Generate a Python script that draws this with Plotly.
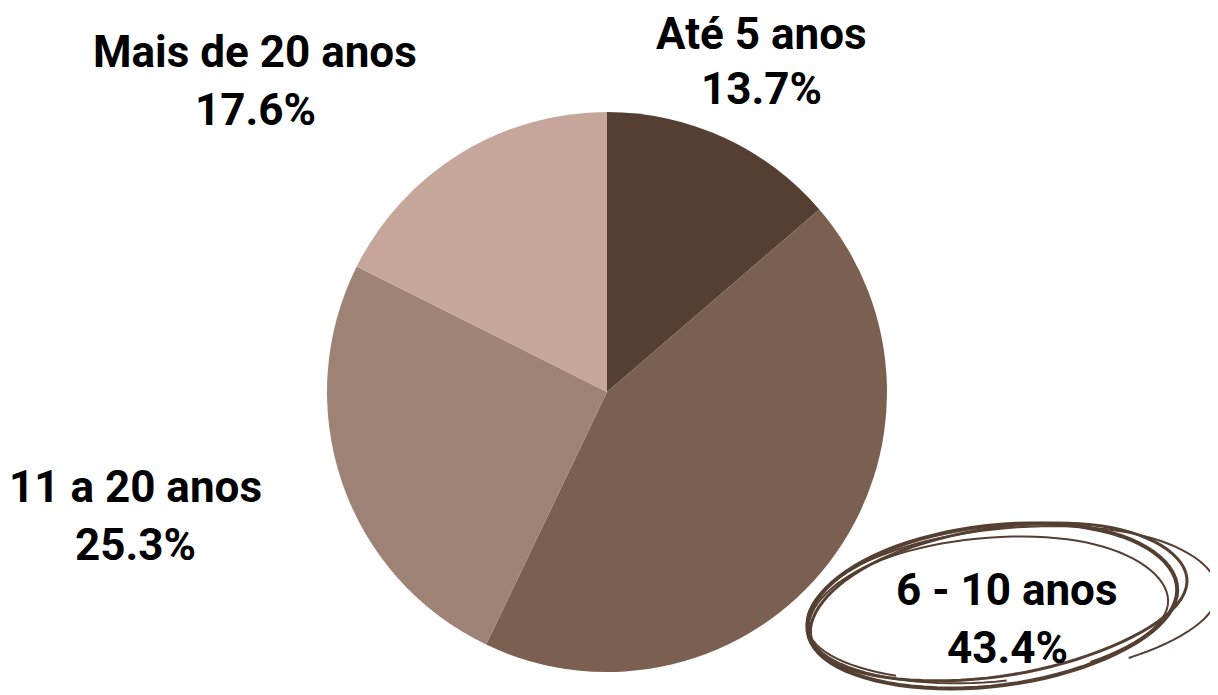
import plotly.graph_objects as go
import numpy as np

categories = ["Até 5 anos", "6 - 10 anos", "11 a 20 anos", "Mais de 20 anos"]
values = [13.7, 43.4, 25.3, 17.6]
colors = ["#553F32", "#7B5F51", "#9E8276", "#C6A59A"]

W, H = 1218, 695
OFF = 8  # page body margin offset
CX, CY, R = 607 - OFF, 392 - OFF, 280

fig = go.Figure(go.Pie(
    labels=categories, values=values, sort=False, direction="clockwise",
    rotation=0, marker=dict(colors=colors, line=dict(width=0)),
    textinfo="none", hoverinfo="label+percent", showlegend=False,
    domain=dict(x=[(CX-R)/W, (CX+R)/W], y=[(H-CY-R)/H, (H-CY+R)/H]),
))

# label positions (pixels, as seen in the reference): centre x, first-line centre y
label_pos = {
    "Até 5 anos": (761, 34),
    "6 - 10 anos": (1007, 590),
    "11 a 20 anos": (135, 487),
    "Mais de 20 anos": (255, 52),
}
LINE_GAP = {"Até 5 anos": 55}
for cat, v in zip(categories, values):
    x, y = label_pos[cat]
    gap = LINE_GAP.get(cat, 58)
    for i, txt in enumerate([cat, f"{v:.1f}%"]):
        fig.add_annotation(x=(x-OFF)/W, y=1-(y + i*gap - OFF)/H,
                           xref="paper", yref="paper",
                           text=f"<b>{txt}</b>", showarrow=False, borderpad=0,
                           font=dict(family="Roboto", size=44, color="#000000"),
                           align="center", xanchor="center", yanchor="middle")

# hand-drawn ellipse decoration around highlighted label
def ellipse_path(cx, cy, a, b, rot_deg, t0=0.0, t1=2*np.pi, n=90, wob=0.0):
    t = np.linspace(t0, t1, n)
    r = np.deg2rad(rot_deg)
    aa = a * (1 + wob*np.sin(3*t))
    xs = aa*np.cos(t)
    ys = b*np.sin(t)
    px = cx + xs*np.cos(r) - ys*np.sin(r) - OFF
    py = cy + xs*np.sin(r) + ys*np.cos(r) - OFF
    pts = [f"{x/W:.5f},{1-y/H:.5f}" for x, y in zip(px, py)]
    return "M " + " L ".join(pts)

strokes = [
    (992, 606, 186, 80, -7, 0.3, 2*np.pi+0.6, 0.01, 4),
    (998, 602, 190, 74, -9, 0.0, 2*np.pi, 0.02, 3),
    (1012, 604, 206, 76, -5, 2.2, 2*np.pi+1.0, 0.015, 2),
    (988, 610, 180, 72, -5, 1.5, 2*np.pi+1.0, 0.02, 2),
]
for cx, cy, a, b, rot, t0, t1, wob, w in strokes:
    fig.add_shape(type="path", path=ellipse_path(cx, cy, a, b, rot, t0, t1, wob=wob),
                  xref="paper", yref="paper", line=dict(color="#553F32", width=w))

fig.update_layout(width=W, height=H, margin=dict(l=0, r=0, t=0, b=0),
                  paper_bgcolor="white", plot_bgcolor="white")
fig.write_html("out.html")
